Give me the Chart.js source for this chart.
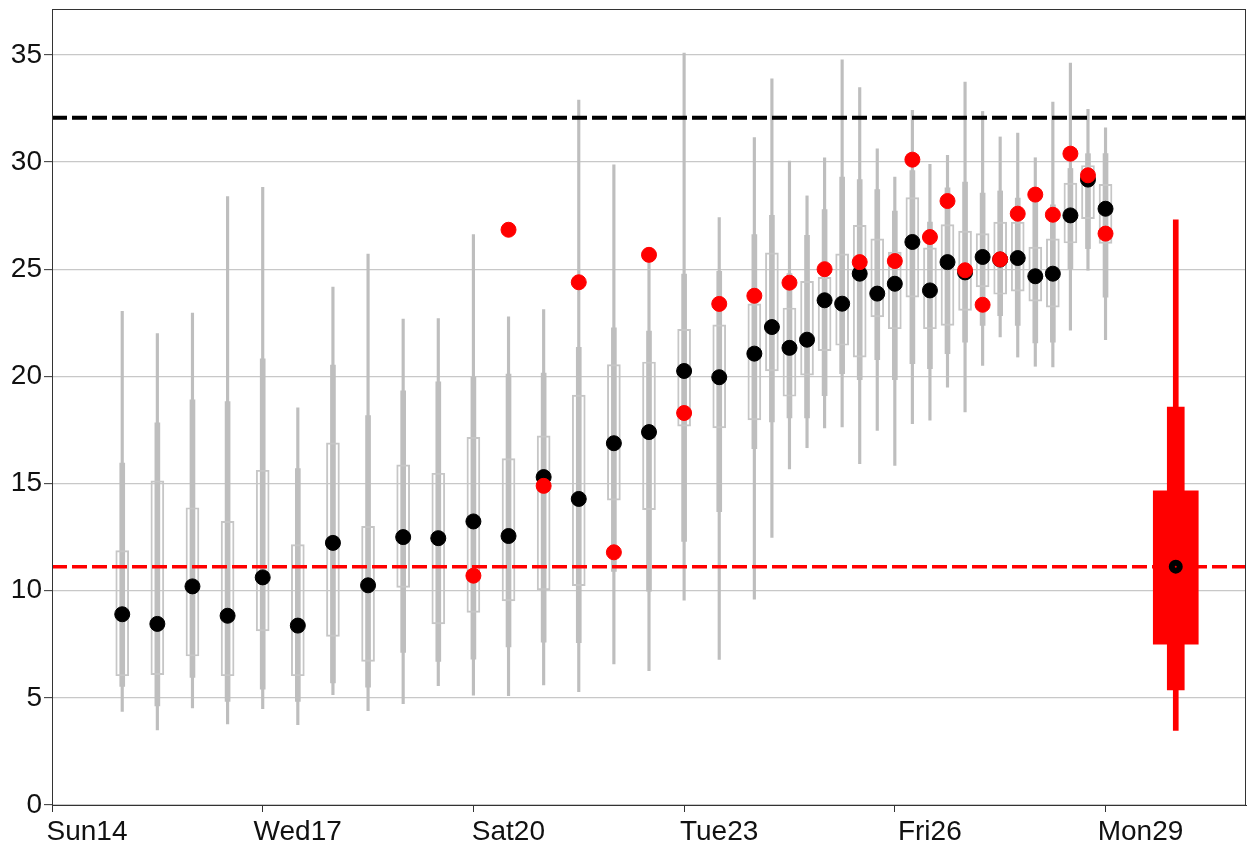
<!DOCTYPE html>
<html>
<head>
<meta charset="utf-8">
<script src="https://cdn.jsdelivr.net/npm/chart.js@4.4.1/dist/chart.umd.min.js"></script>
<style>
  html, body { margin: 0; padding: 0; background: #ffffff; }
  #wrap { width: 1248px; height: 846px; }
</style>
</head>
<body>
<div id="wrap"><canvas id="c" width="1248" height="846"></canvas></div>
<script>
// Time axis in days since Sun 14, 00:00
const xTickValues = [0, 3, 6, 9, 12, 15];
const xTickLabels = ['Sun14', 'Wed17', 'Sat20', 'Tue23', 'Fri26', 'Mon29'];
const yTickValues = [0, 5, 10, 15, 20, 25, 30, 35];

// Ensemble forecast times
const ensTimes = [1, 1.5, 2, 2.5, 3, 3.5, 4, 4.5, 5, 5.5, 6, 6.5, 7, 7.5, 8, 8.5, 9, 9.5, 10,
                  10.25, 10.5, 10.75, 11, 11.25, 11.5, 11.75, 12, 12.25, 12.5, 12.75, 13,
                  13.25, 13.5, 13.75, 14, 14.25, 14.5, 14.75, 15];
// Ensemble spread: extremes, 10/90 percentiles, quartiles
const ensMin = [4.37, 3.5, 4.53, 3.78, 4.5, 3.75, 5.15, 4.4, 4.73, 5.57, 5.13, 5.1, 5.6, 5.29, 6.58, 6.27, 9.56, 6.79, 9.6,
                12.49, 15.68, 16.67, 17.59, 17.64, 15.93, 17.48, 15.85, 17.79, 17.95, 19.5, 18.34,
                20.51, 21.84, 20.9, 20.47, 20.44, 22.15, 24.95, 21.71];
const ensP10 = [5.53, 4.62, 5.95, 4.83, 5.4, 4.83, 5.7, 5.5, 7.12, 6.7, 6.8, 7.38, 7.6, 7.57, 10.9, 9.98, 12.3, 13.69, 16.63,
                17.87, 18.06, 18.06, 19.1, 20.12, 19.84, 20.78, 19.84, 20.59, 20.36, 21.06, 21.6,
                22.38, 22.83, 22.38, 21.56, 21.6, 25.02, 25.96, 23.7];
const ensQ1 = [6.03, 6.08, 6.95, 6.03, 8.12, 6.03, 7.87, 6.7, 10.15, 8.45, 8.99, 9.52, 10.04, 10.23, 14.22, 13.78, 17.68, 17.59, 17.97,
               20.25, 19.07, 20.06, 21.2, 21.45, 20.9, 22.77, 22.22, 23.7, 22.22, 22.38, 23.08,
               24.17, 23.83, 23.98, 23.51, 23.23, 26.22, 27.36, 26.2];
const ensQ3 = [11.87, 15.12, 13.87, 13.23, 15.62, 12.15, 16.9, 13.0, 15.87, 15.48, 17.15, 16.16, 17.22, 19.13, 20.55, 20.67, 22.19, 22.4, 23.38,
               25.76, 23.19, 24.43, 24.62, 25.72, 27.05, 26.42, 25.8, 28.34, 26.0, 27.08, 26.78,
               26.66, 27.2, 27.2, 26.03, 26.42, 29.02, 29.84, 28.96];
const ensP90 = [15.95, 17.83, 18.9, 18.82, 20.82, 15.7, 20.53, 18.17, 19.33, 19.75, 19.96, 20.11, 20.15, 21.35, 22.26, 22.11, 24.77, 24.9, 26.62,
                27.51, 24.8, 26.58, 27.78, 29.3, 29.18, 28.72, 27.71, 29.6, 27.2, 28.8, 29.07,
                28.55, 28.65, 28.32, 28.5, 28.0, 29.7, 30.39, 30.39];
const ensMax = [23.03, 22.0, 22.95, 28.39, 28.82, 18.53, 24.17, 25.7, 22.67, 22.7, 26.62, 22.78, 23.12, 32.89, 29.87, 25.6, 35.08, 27.41, 31.14,
                33.88, 30.04, 28.42, 30.2, 34.77, 33.47, 30.62, 29.3, 32.41, 29.89, 30.31, 33.73,
                32.36, 31.17, 31.35, 30.2, 32.8, 34.62, 32.46, 31.6];
// Ensemble mean (black dots)
const ensMean = [8.9, 8.45, 10.2, 8.83, 10.62, 8.37, 12.23, 10.25, 12.5, 12.45, 13.23, 12.55, 15.3, 14.28, 16.88, 17.4, 20.25, 19.96, 21.06,
                 22.3, 21.33, 21.71, 23.55, 23.39, 24.79, 23.86, 24.32, 26.27, 24.01, 25.33, 24.85,
                 25.57, 25.45, 25.52, 24.67, 24.79, 27.51, 29.18, 27.82];

// Observations (red dots)
const obsTimes = [6, 6.5, 7, 7.5, 8, 8.5, 9, 9.5, 10, 10.5, 11, 11.5, 12, 12.25, 12.5, 12.75, 13,
                  13.25, 13.5, 13.75, 14, 14.25, 14.5, 14.75, 15];
const obsValues = [10.7, 26.84, 14.89, 24.39, 11.79, 25.67, 18.29, 23.38, 23.76, 24.37, 25.0, 25.33, 25.38, 30.11, 26.5, 28.18, 24.95,
                   23.34, 25.46, 27.59, 28.48, 27.54, 30.39, 29.38, 26.66];

// Climatology summary, placed one day after the last forecast
const climTime = [16];
const climMin = [3.48];
const climP10 = [5.37];
const climQ1 = [7.5];
const climMedian = [11.12];
const climQ3 = [14.66];
const climP90 = [18.57];
const climMax = [27.3];

// Reference levels
const upperLevel = [32.07];
const medianLevel = [11.12];
const xRange = [0, 17];
const yRange = [0, 37.14];

const FONT = "'Liberation Sans', Arial, Helvetica, sans-serif";
const GREY = '#bebebe';

function spans(times, lo, hi) {
  return times.map((t, i) => ({ x: t, y: [lo[i], hi[i]] }));
}
function points(times, vals) {
  return times.map((t, i) => ({ x: t, y: vals[i] }));
}
function level(v) {
  return [{ x: xRange[0], y: v }, { x: xRange[1], y: v }];
}

const framePlugin = {
  id: 'frame',
  afterDatasetsDraw(chart) {
    const a = chart.chartArea, ctx = chart.ctx;
    ctx.save();
    ctx.strokeStyle = '#333333';
    ctx.lineWidth = 1;
    ctx.strokeRect(a.left + 0.5, a.top + 0.5, a.right - a.left - 1, a.bottom - a.top);
    ctx.restore();
  }
};

const barBase = { type: 'bar', grouped: false, borderSkipped: false };

new Chart(document.getElementById('c'), {
  type: 'bar',
  data: {
    datasets: [
      { type: 'scatter', data: points(obsTimes, obsValues), backgroundColor: '#ff0000', borderColor: '#ff0000',
        borderWidth: 1, pointRadius: 7.5, order: 0 },
      { type: 'scatter', data: points(ensTimes, ensMean), backgroundColor: '#000000', borderColor: '#000000',
        borderWidth: 1, pointRadius: 7.5, order: 1 },
      { type: 'scatter', data: points(climTime, climMedian), backgroundColor: '#ff0000', borderColor: '#000000',
        borderWidth: 6, pointRadius: 4, order: 0 },
      { type: 'line', data: level(upperLevel[0]), borderColor: '#000000', borderWidth: 4, borderDash: [15, 5],
        pointRadius: 0, order: 2 },
      { type: 'line', data: level(medianLevel[0]), borderColor: '#ff0000', borderWidth: 3.5, borderDash: [15, 5],
        pointRadius: 0, order: 2 },
      Object.assign({}, barBase, { data: spans(climTime, climQ1, climQ3), backgroundColor: '#ff0000',
        barThickness: 45, order: 3 }),
      Object.assign({}, barBase, { data: spans(climTime, climP10, climP90), backgroundColor: '#ff0000',
        barThickness: 17, order: 3 }),
      Object.assign({}, barBase, { data: spans(climTime, climMin, climMax), backgroundColor: '#ff0000',
        barThickness: 5, order: 3 }),
      Object.assign({}, barBase, { data: spans(ensTimes, ensQ1, ensQ3), backgroundColor: 'rgba(0,0,0,0)',
        borderColor: '#c6c6c6', borderWidth: 1.3, barThickness: 13, order: 4 }),
      Object.assign({}, barBase, { data: spans(ensTimes, ensP10, ensP90), backgroundColor: GREY,
        barThickness: 5, order: 5 }),
      Object.assign({}, barBase, { data: spans(ensTimes, ensMin, ensMax), backgroundColor: GREY,
        barThickness: 2.5, order: 6 })
    ]
  },
  options: {
    responsive: false,
    animation: false,
    devicePixelRatio: 1,
    layout: { autoPadding: false, padding: { top: 9, right: 2, left: 0, bottom: 0 } },
    plugins: { legend: { display: false }, tooltip: { enabled: false } },
    scales: {
      x: {
        type: 'linear',
        min: xRange[0], max: xRange[1],
        offset: false,
        grid: { display: true, drawOnChartArea: false, drawTicks: true, tickLength: 7,
                tickColor: '#333333', tickWidth: 1, offset: false },
        border: { display: true, color: '#333333', width: 1 },
        ticks: {
          font: { family: FONT, size: 28 }, color: '#111111', padding: 3,
          labelOffset: 35, maxRotation: 0, autoSkip: false,
          callback: (v) => { const i = xTickValues.indexOf(v); return i >= 0 ? xTickLabels[i] : ''; }
        },
        afterBuildTicks: (s) => { s.ticks = xTickValues.map(v => ({ value: v })); },
        afterFit: (s) => { s.height = 41; s.paddingLeft = 0; s.paddingRight = 0; }
      },
      y: {
        type: 'linear',
        min: yRange[0], max: yRange[1],
        grid: { color: '#c8c8c8', lineWidth: 1.3, drawTicks: true, tickLength: 8,
                tickColor: '#333333', tickWidth: 1 },
        border: { display: true, color: '#333333', width: 1 },
        ticks: {
          font: { family: FONT, size: 28 }, color: '#111111', padding: 2,
          callback: (v) => String(v)
        },
        afterBuildTicks: (s) => { s.ticks = yTickValues.map(v => ({ value: v })); },
        afterFit: (s) => { s.width = 52; s.paddingTop = 0; s.paddingBottom = 0; }
      }
    }
  },
  plugins: [framePlugin]
});
</script>
</body>
</html>
